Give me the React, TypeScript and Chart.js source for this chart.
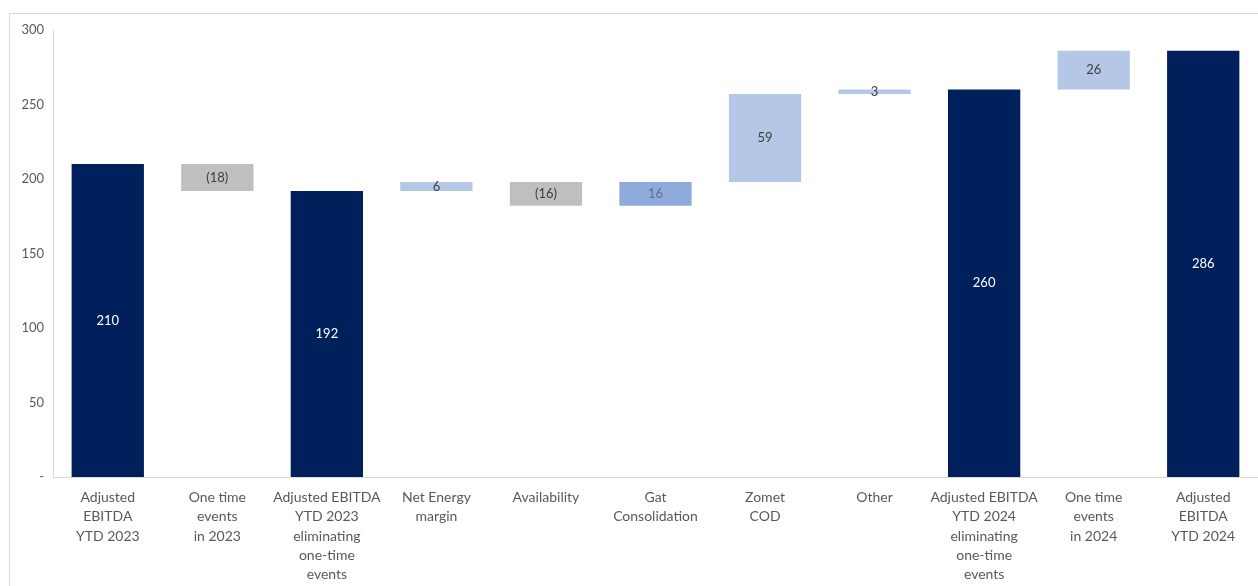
import React, { useEffect, useRef } from "react";
import { Chart, registerables } from "chart.js";

Chart.register(...registerables);

// Waterfall bridge: Adjusted EBITDA YTD 2023 -> YTD 2024
const categories: string[][] = [
  ["Adjusted", "EBITDA", "YTD 2023"],
  ["One time", "events", "in 2023"],
  ["Adjusted EBITDA", "YTD 2023", "eliminating", "one-time", "events"],
  ["Net Energy", "margin"],
  ["Availability"],
  ["Gat", "Consolidation"],
  ["Zomet", "COD"],
  ["Other"],
  ["Adjusted EBITDA", "YTD 2024", "eliminating", "one-time", "events"],
  ["One time", "events", "in 2024"],
  ["Adjusted", "EBITDA", "YTD 2024"],
];

// Totals are absolute levels, the rest are changes from the running level
const values = [210, -18, 192, 6, -16, 16, 59, 3, 260, 26, 286];
const isTotal = [true, false, true, false, false, false, false, false, true, false, true];
const yTickValues = [0, 50, 100, 150, 200, 250, 300];

const NAVY = "#00205B";
const GREY = "#BFBFBF";
const LIGHT_BLUE = "#B4C7E7";
const MID_BLUE = "#8FAADC";
const FONT = "Lato, 'Open Sans', sans-serif";

function buildRanges(): [number, number][] {
  let level = 0;
  return values.map((v, i) => {
    if (isTotal[i]) {
      level = v;
      return [0, v];
    }
    const start = level;
    level += v;
    return [start, level];
  });
}

function barColour(i: number): string {
  if (isTotal[i]) return NAVY;
  if (values[i] < 0) return GREY;
  if (categories[i][0] === "Gat") return MID_BLUE;
  return LIGHT_BLUE;
}

function labelText(i: number): string {
  const v = values[i];
  return v < 0 ? `(${-v})` : String(v);
}

function labelColour(i: number): string {
  if (isTotal[i]) return "#FFFFFF";
  if (categories[i][0] === "Gat") return "#5B6C90";
  return "#404040";
}

const valueLabels = {
  id: "valueLabels",
  afterDatasetsDraw(chart: any) {
    const ctx = chart.ctx;
    const meta = chart.getDatasetMeta(0);
    ctx.save();
    ctx.font = `13px ${FONT}`;
    ctx.textAlign = "center";
    ctx.textBaseline = "middle";
    meta.data.forEach((bar: any, i: number) => {
      const cy = (bar.y + bar.base) / 2;
      ctx.fillStyle = labelColour(i);
      ctx.fillText(labelText(i), bar.x, cy);
    });
    ctx.restore();
  },
};

export default function App() {
  const canvasRef = useRef<HTMLCanvasElement | null>(null);

  useEffect(() => {
    if (!canvasRef.current) return;
    const ranges = buildRanges();
    const chart = new Chart(canvasRef.current, {
      type: "bar",
      data: {
        labels: categories,
        datasets: [
          {
            data: ranges as any,
            backgroundColor: values.map((_, i) => barColour(i)),
            borderWidth: 0,
            barPercentage: 0.66,
            categoryPercentage: 1,
          },
        ],
      },
      options: {
        responsive: false,
        animation: false,
        devicePixelRatio: 1,
        layout: { padding: { top: 30, left: 0, right: 0, bottom: 0 } },
        plugins: {
          legend: { display: false },
          tooltip: { enabled: false },
        },
        scales: {
          x: {
            grid: { display: false, drawTicks: false },
            border: { display: true, color: "#D9D9D9", width: 1 },
            ticks: {
              color: "#595959",
              font: { family: FONT, size: 14, lineHeight: 1.38 },
              padding: 11,
              maxRotation: 0,
              autoSkip: false,
            },
            afterFit(scale: any) {
              scale.height = 109;
            },
          },
          y: {
            min: 0,
            max: 300,
            afterBuildTicks(scale: any) {
              scale.ticks = yTickValues.map((v) => ({ value: v }));
            },
            grid: { display: false, drawTicks: false },
            border: { display: true, color: "#D9D9D9", width: 1 },
            ticks: {
              color: "#595959",
              font: { family: FONT, size: 13 },
              padding: 9,
              callback: (v: any) => (Number(v) === 0 ? "-" : String(v)),
            },
            afterFit(scale: any) {
              scale.width = 53;
            },
          },
        },
      },
      plugins: [valueLabels],
    });
    return () => chart.destroy();
  }, []);

  return (
    <div style={{ position: "fixed", left: 0, top: 0, width: 1258, height: 586, background: "#FFFFFF", overflow: "hidden" }}>
      <div
        style={{
          position: "absolute",
          left: 9,
          top: 13,
          width: 1300,
          height: 640,
          border: "1px solid #D9D9D9",
          boxSizing: "border-box",
        }}
      />
      <canvas ref={canvasRef} width={1258} height={586} style={{ position: "absolute", left: 0, top: 0 }} />
    </div>
  );
}
